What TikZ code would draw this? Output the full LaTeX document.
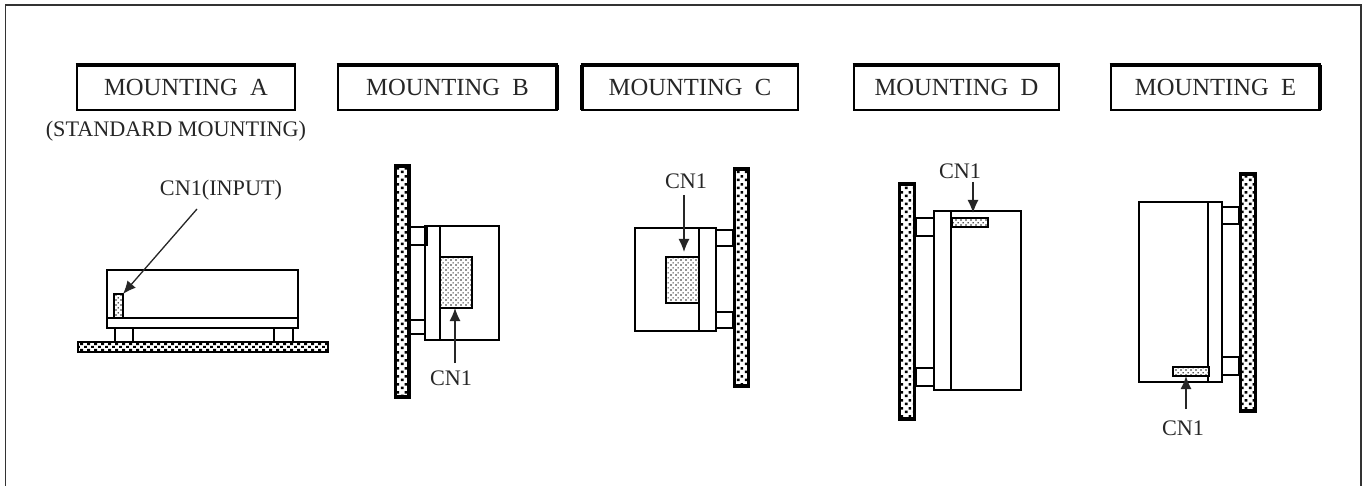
\documentclass[tikz,border=0pt]{standalone}
\usepackage{fontspec}
\setmainfont{Liberation Serif}
\usetikzlibrary{arrows.meta,patterns}
\pgfdeclarepatternformonly{wallp}{\pgfqpoint{0pt}{0pt}}{\pgfqpoint{8pt}{8pt}}{\pgfqpoint{8pt}{8pt}}{%
  \pgfpathrectangle{\pgfqpoint{1pt}{1pt}}{\pgfqpoint{2.8pt}{2.8pt}}%
  \pgfpathrectangle{\pgfqpoint{5pt}{5pt}}{\pgfqpoint{2.8pt}{2.8pt}}%
  \pgfusepath{fill}}
\pgfdeclarepatternformonly{basep}{\pgfqpoint{0pt}{0pt}}{\pgfqpoint{7pt}{6pt}}{\pgfqpoint{7pt}{6pt}}{%
  \pgfpathrectangle{\pgfqpoint{0pt}{0pt}}{\pgfqpoint{3.4pt}{2.4pt}}%
  \pgfpathrectangle{\pgfqpoint{3.5pt}{3pt}}{\pgfqpoint{3.4pt}{2.4pt}}%
  \pgfusepath{fill}}
\pgfdeclarepatternformonly{finep}{\pgfqpoint{0pt}{0pt}}{\pgfqpoint{5pt}{5pt}}{\pgfqpoint{5pt}{5pt}}{%
  \pgfpathrectangle{\pgfqpoint{0.5pt}{0.5pt}}{\pgfqpoint{1.3pt}{1.3pt}}%
  \pgfpathrectangle{\pgfqpoint{3pt}{3pt}}{\pgfqpoint{1.3pt}{1.3pt}}%
  \pgfusepath{fill}}
\tikzset{
  x=1pt,y=-1pt,
  ln/.style={line width=2.8pt,draw=black},
  wall/.style={line width=3.4pt,draw=black,preaction={fill=white},pattern=wallp,pattern color=black},
  titlebox/.style={draw=black,line width=2.6pt,inner sep=0pt,outer sep=0pt,font=\fontsize{24.6}{28}\selectfont,text=black!85},
  lbl/.style={inner sep=0pt,font=\fontsize{22.2}{26}\selectfont,text=black!85},
  conn/.style={draw=black,line width=2.8pt,inner sep=0pt,outer sep=0pt,preaction={fill=white},pattern=finep,pattern color=black},
  leader/.style={line width=1.3pt,draw=black!85,-{Latex[length=13pt,width=11pt]}},
  thick edge/.style={line width=4.8pt,draw=black,line cap=butt}
}
\begin{document}
\begin{tikzpicture}
\useasboundingbox (0,0) rectangle (1362,486);
\fill[white] (0,0) rectangle (1362,486);
% frame
\draw[line width=1.4pt,black!80] (5.5,486) -- (5.5,5) -- (1361,5) -- (1361,486);

% titles
\node[titlebox,minimum width=218pt,minimum height=45pt] (tA) at (186,87.5) {\raisebox{-1pt}{MOUNTING\ \ A}};
\node[titlebox,minimum width=219pt,minimum height=45pt] (tB) at (447.5,87.5) {\raisebox{-1pt}{MOUNTING\ \ B}};
\node[titlebox,minimum width=216pt,minimum height=45pt] (tC) at (690,87.5) {\raisebox{-1pt}{MOUNTING\ \ C}};
\node[titlebox,minimum width=205pt,minimum height=45pt] (tD) at (956.5,87.5) {\raisebox{-1pt}{MOUNTING\ \ D}};
\node[titlebox,minimum width=209pt,minimum height=45pt] (tE) at (1215.5,87.5) {\raisebox{-1pt}{MOUNTING\ \ E}};
\draw[thick edge] ([xshift=-1.3pt]tA.north west) -- ([xshift=1.3pt]tA.north east);
\draw[thick edge] ([xshift=-1.3pt]tB.north west) -- ([xshift=1.3pt]tB.north east);
\draw[thick edge] ([xshift=-1.3pt]tC.north west) -- ([xshift=1.3pt]tC.north east);
\draw[thick edge] ([xshift=-1.3pt]tD.north west) -- ([xshift=1.3pt]tD.north east);
\draw[thick edge] ([xshift=-1.3pt]tE.north west) -- ([xshift=1.3pt]tE.north east);
\draw[line width=3.6pt] (tB.north east) -- (tB.south east);
\draw[line width=3.6pt] (tC.north west) -- (tC.south west);
\draw[line width=3.6pt] (tE.north east) -- (tE.south east);
\node[lbl] (sub) at (176,131) {(STANDARD MOUNTING)};

% Mounting A
\draw[line width=2.8pt,draw=black,preaction={fill=white},pattern=basep,pattern color=black] (78,342) rectangle (328,352);
\draw[ln] (107,270) rectangle (298,328);
\draw[ln] (107,318) -- (298,318);
\draw[ln] (115,328) -- (115,341) (133,328) -- (133,341);
\draw[ln] (274,328) -- (274,341) (293,328) -- (293,341);
\node[conn,minimum width=9pt,minimum height=24pt] (cA) at (118.5,306) {};
\node[lbl] (lA) at (221,190) {CN1(INPUT)};
\coordinate (aA) at (197,209);
\draw[leader] (aA) -- (cA.north east);

% Mounting B
\draw[wall] (395.5,166) rectangle (409,397);
\draw[ln] (425,226) rectangle (499,340);
\draw[ln] (440,226) -- (440,340);
\draw[ln] (410,227) rectangle (427,245);
\draw[ln] (410,320) -- (425,320) (410,334) -- (425,334);
\node[conn,minimum width=32pt,minimum height=51pt] (cB) at (456,282.5) {};
\node[lbl] (lB) at (451,378) {CN1};
\coordinate (aB) at (455,363);
\draw[leader] (aB) -- (aB |- cB.south);

% Mounting C
\draw[wall] (734.5,169) rectangle (748.5,386);
\draw[ln] (635,228) rectangle (716,331);
\draw[ln] (699,228) -- (699,331);
\draw[ln] (716,230) rectangle (733,246);
\draw[ln] (716,312) rectangle (733,328);
\node[conn,minimum width=33pt,minimum height=46pt] (cC) at (682.5,280) {};
\node[lbl] (lC) at (686,181) {CN1};
\coordinate (aC) at (684,195);
\draw[leader,shorten >=5pt] (aC) -- (aC |- cC.north);

% Mounting D
\draw[wall] (899.5,184) rectangle (914.5,419);
\draw[ln] (934,211) rectangle (1021,390);
\draw[ln] (951,211) -- (951,390);
\draw[ln] (916,218) rectangle (934,236);
\draw[ln] (916,368) rectangle (934,386);
\node[conn,minimum width=36pt,minimum height=9pt] (cD) at (970,222.5) {};
\node[lbl] (lD) at (960,171) {CN1};
\coordinate (aD) at (973,182);
\draw[leader,shorten >=5pt] (aD) -- (aD |- cD.north);

% Mounting E
\draw[wall] (1240.5,174) rectangle (1255.5,411);
\draw[ln] (1139,202) rectangle (1222,382);
\draw[ln] (1208,202) -- (1208,382);
\draw[ln] (1222,207) rectangle (1239,224);
\draw[ln] (1222,357) rectangle (1239,375);
\node[conn,minimum width=36pt,minimum height=9pt] (cE) at (1191,371.5) {};
\node[lbl] (lE) at (1183,428.5) {CN1};
\coordinate (aE) at (1186,409);
\draw[leader] (aE) -- (aE |- cE.south);
\end{tikzpicture}
\end{document}
